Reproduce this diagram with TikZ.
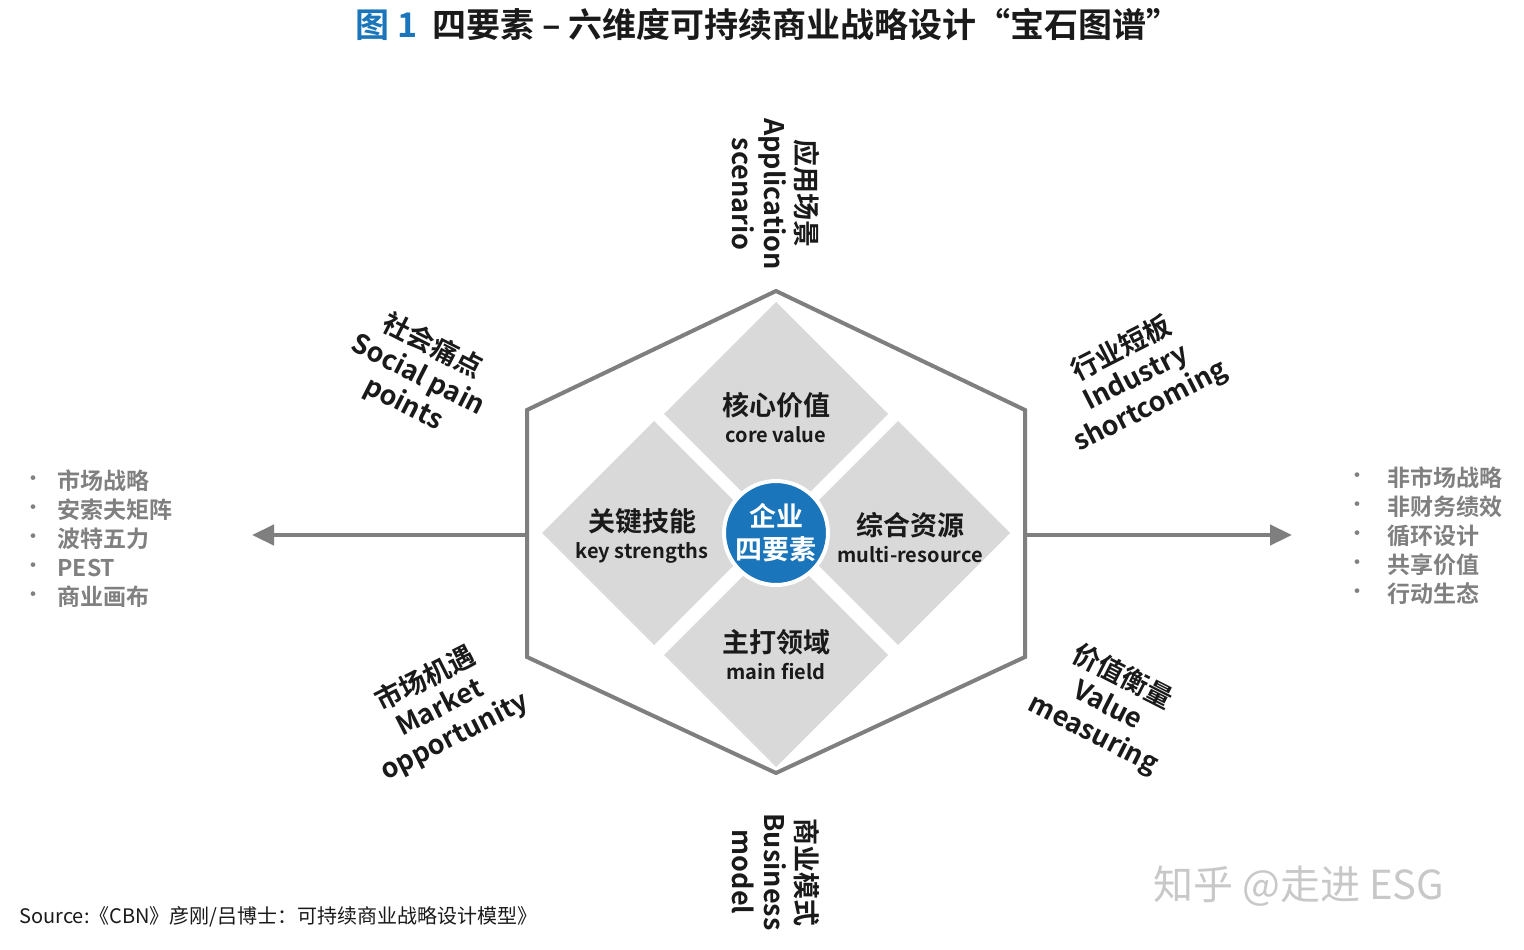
\documentclass[tikz,border=0pt]{standalone}
\usepackage{fontspec}
\setmainfont{Noto Sans CJK SC}[BoldFont={Noto Sans CJK SC Bold}]
\usetikzlibrary{arrows.meta}
\definecolor{hexgray}{HTML}{7F7F7F}
\definecolor{dia}{HTML}{D9D9D9}
\definecolor{blu}{HTML}{1A75BB}
\definecolor{txt}{HTML}{1A1A1A}
\definecolor{lst}{HTML}{808080}
\definecolor{wm}{HTML}{C8C8C8}
\tikzset{
 dlabel/.style={align=center,text=txt,font=\bfseries\fontsize{27}{31}\selectfont},
 side/.style={align=center,text=txt,font=\bfseries\fontsize{27}{32}\selectfont},
 item/.style={anchor=west,text=lst,font=\bfseries\fontsize{23}{25}\selectfont},
 bul/.style={anchor=center,text=lst,font=\fontsize{22}{24}\selectfont},
 arr/.style={hexgray,line width=4.5pt,-{Triangle[length=22pt,width=20pt]}},
 diam/.style={fill=dia,draw=none}
}
\newcommand{\smalltxt}[1]{{\fontsize{20}{24}\selectfont #1}}
\begin{document}
\begin{tikzpicture}[x=1pt,y=-1pt]
\useasboundingbox (0,0) rectangle (1524,950);
\fill[white] (0,0) rectangle (1524,950);
\node[font=\bfseries\fontsize{34}{38}\selectfont] (title) at (768,24) {\textcolor{blu}{图 1}\ \ \textcolor{txt}{四要素 – 六维度可持续商业战略设计“宝石图谱”}};
\fill[diam] (776,302) -- (888,414) -- (776,526) -- (664,414) -- cycle;
\fill[diam] (776,543) -- (888,655) -- (776,767) -- (664,655) -- cycle;
\fill[diam] (654,421) -- (766,533) -- (654,645) -- (542,533) -- cycle;
\fill[diam] (898,421) -- (1010,533) -- (898,645) -- (786,533) -- cycle;
\coordinate (hl) at (527,535);
\coordinate (hr) at (1025,535);
\draw[hexgray,line width=4pt,line join=miter] (776,291) -- (1025,410) -- (1025,657) -- (776,773) -- (527,657) -- (527,410) -- cycle;
\coordinate (al) at (252,535);
\coordinate (ar) at (1292,535);
\draw[arr] (hl) -- (al);
\draw[arr] (hr) -- (ar);
\node[circle,fill=blu,draw=white,line width=4pt,minimum size=104pt,inner sep=0pt,align=center,text=white,font=\bfseries\fontsize{27}{33}\selectfont] (core) at (776,533) {企业\\四要素};
\node[dlabel] (cv) at (776,418) {核心价值\\[-4pt]\smalltxt{core value}};
\node[dlabel] (mf) at (776,655) {主打领域\\[-4pt]\smalltxt{main field}};
\node[dlabel] (ks) at (642,536) {关键技能\\[-4pt]\smalltxt{key strengths}};
\node[dlabel] (mr) at (910,538) {综合资源\\[-4pt]\smalltxt{multi-resource}};
\node[side,rotate=-90] (app) at (776,194) {应用场景\\Application\\scenario};
\node[side,rotate=-90] (bm) at (776,872) {商业模式\\Business\\model};
\node[side,rotate=-27] (sp) at (418,375) {社会痛点\\Social pain\\points};
\node[side,rotate=27] (is) at (1136,378) {行业短板\\Industry\\shortcoming};
\node[side,rotate=27] (mo) at (440,708) {市场机遇\\Market\\opportunity};
\node[side,rotate=-27] (vm) at (1108,706) {价值衡量\\Value\\measuring};
\foreach \t [count=\i] in {市场战略,安索夫矩阵,波特五力,PEST,商业画布}{
 \node[bul] (lb\i) at (34,{452+29*\i}) {•};
 \node[item] (li\i) at (54,{452+29*\i}) {\t};
}
\foreach \t [count=\i] in {非市场战略,非财务绩效,循环设计,共享价值,行动生态}{
 \node[bul] (rb\i) at (1357,{449+29*\i}) {•};
 \node[item] (ri\i) at (1384,{449+29*\i}) {\t};
}
\node[anchor=west,text=txt,font=\fontsize{20}{24}\selectfont] (src) at (16,917) {Source:《CBN》彦刚/吕博士：可持续商业战略设计模型》};
\node[anchor=west,text=wm,font=\fontsize{40}{44}\selectfont] (wmk) at (1150,886) {知乎 @走进 ESG};
\end{tikzpicture}
\end{document}
